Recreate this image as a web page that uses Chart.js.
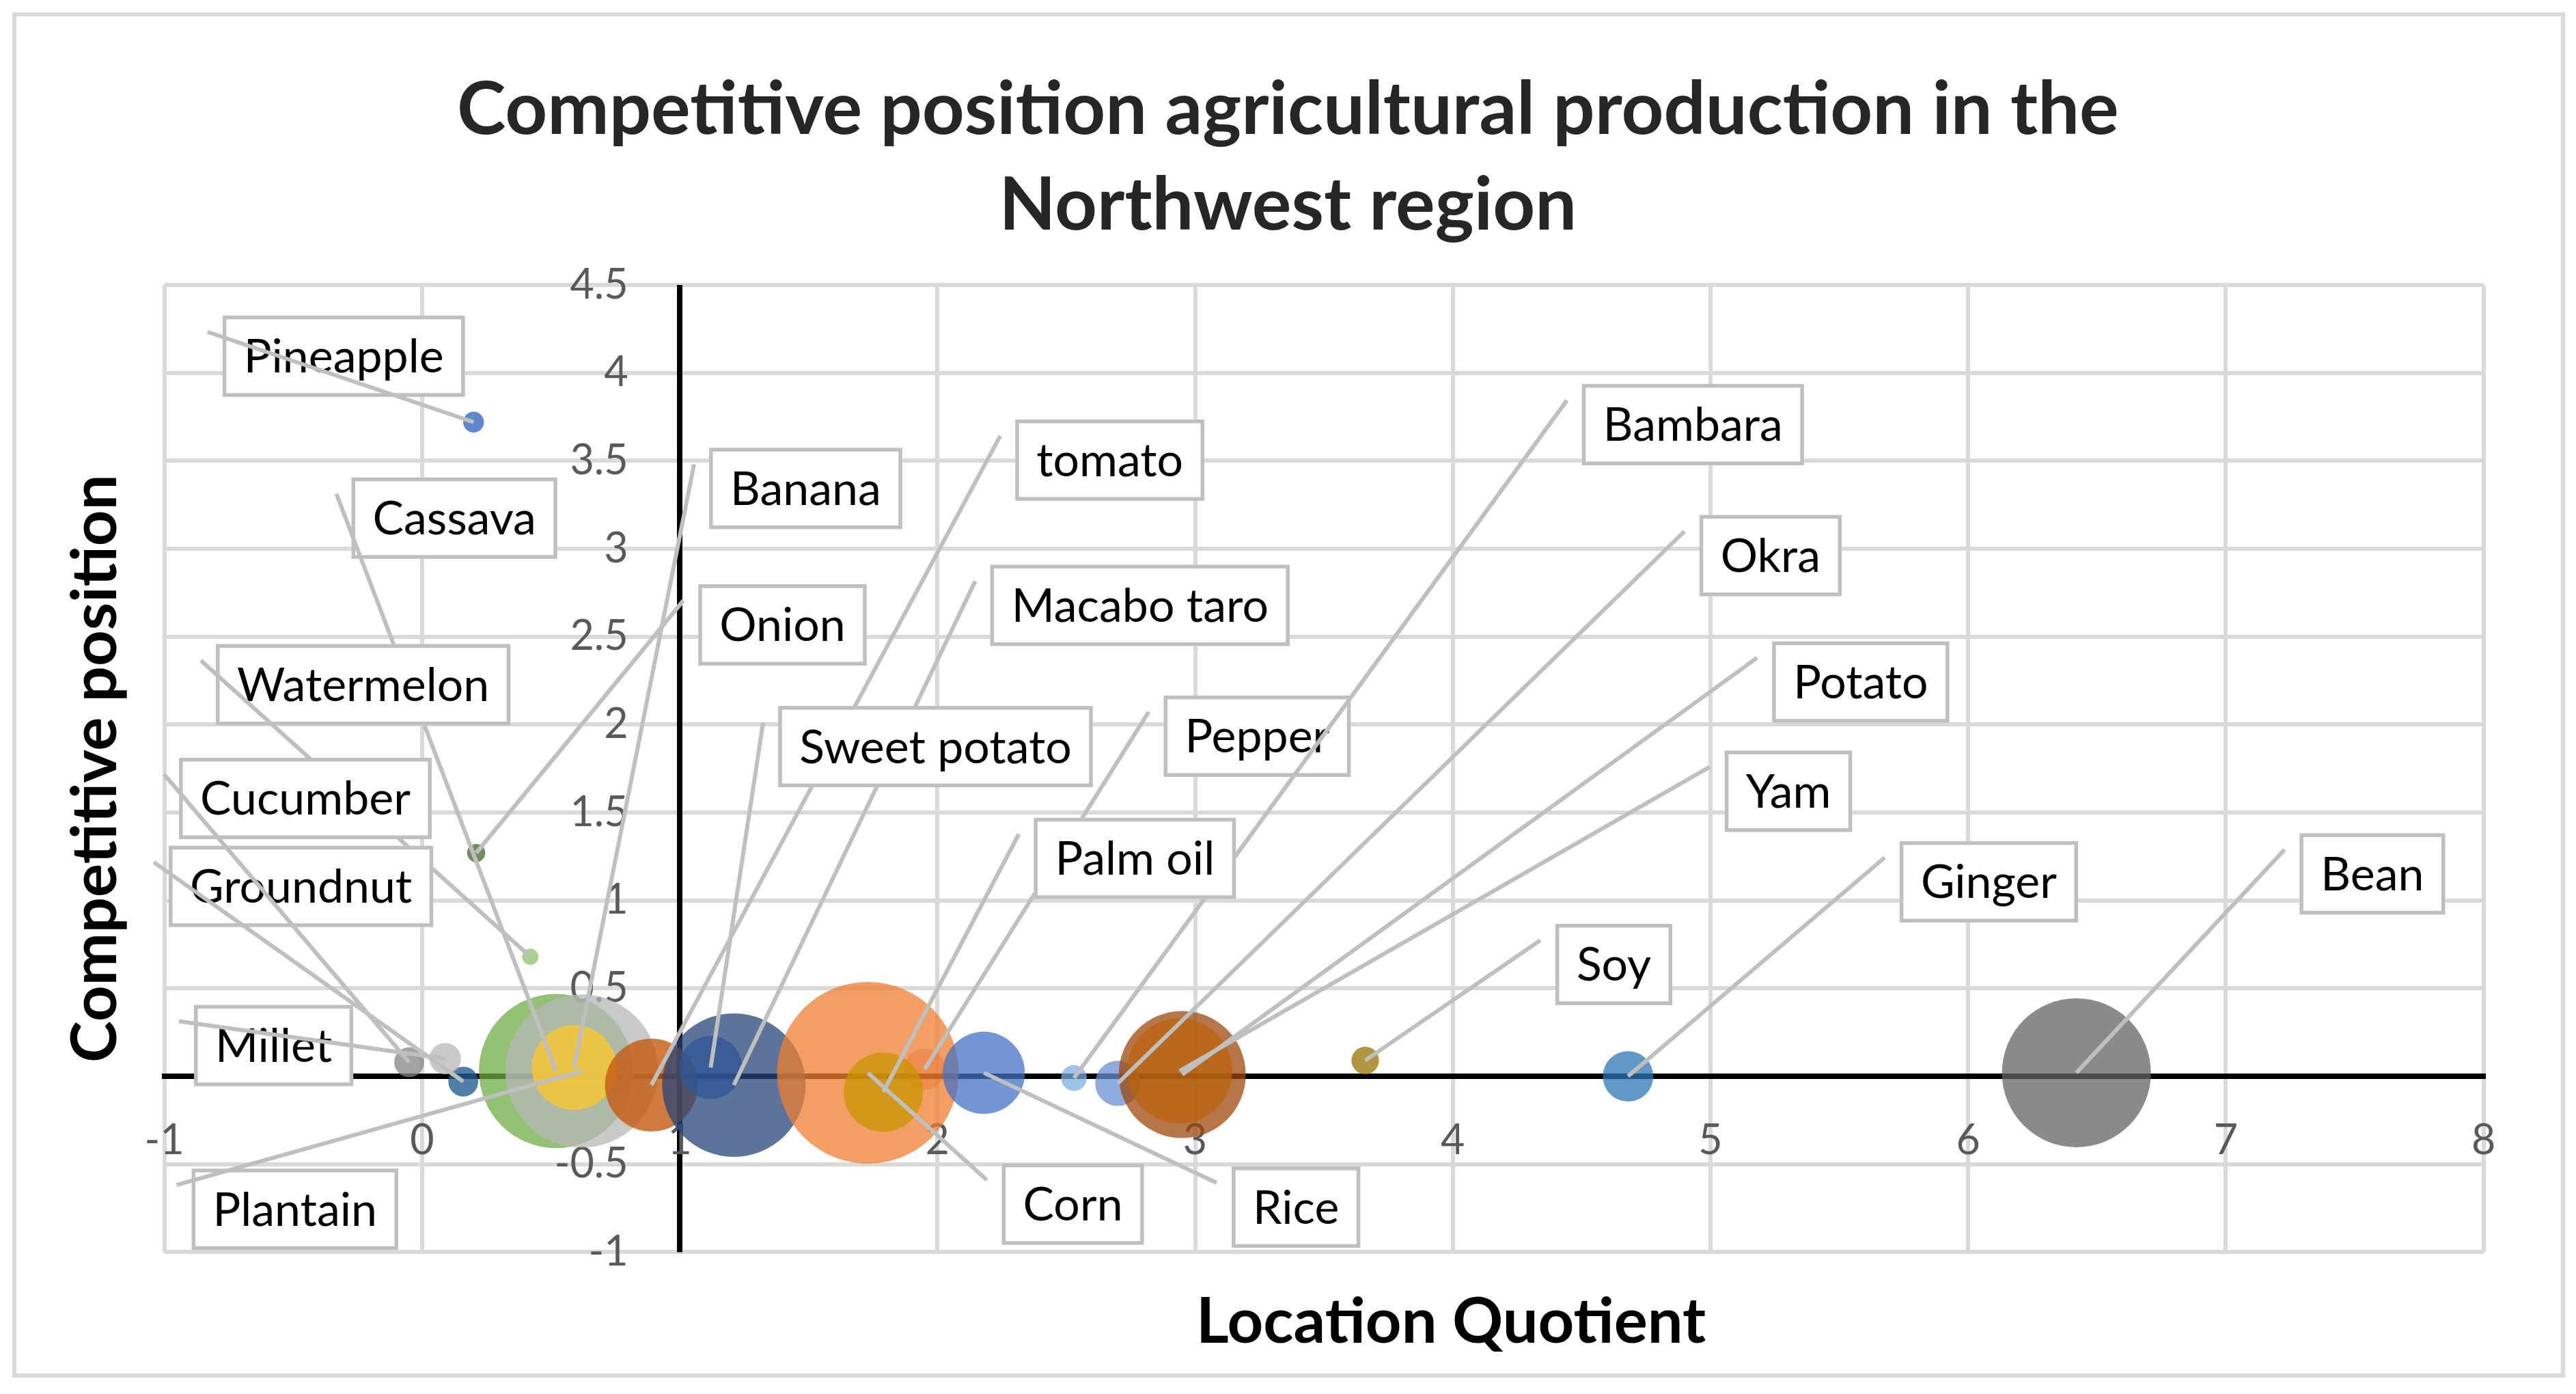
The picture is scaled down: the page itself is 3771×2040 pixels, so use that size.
<!DOCTYPE html>
<html>
<head>
<meta charset="utf-8">
<script src="https://cdn.jsdelivr.net/npm/chart.js@4.4.1/dist/chart.umd.min.js"></script>
<style>
    html, body { margin: 0; padding: 0; background: #fff; }
</style>
</head>
<body>
<canvas id="myChart" width="3771" height="2040"></canvas>
<script>
// Kulturen, eine Blase je Kultur (Reihenfolge = Zeichenreihenfolge)
const crops = ['Pineapple', 'Cassava', 'Watermelon', 'Groundnut', 'Cucumber', 'Millet', 'Plantain',
    'Banana', 'Onion', 'tomato', 'Macabo taro', 'Sweet potato', 'Corn', 'Pepper', 'Bambara',
    'Palm oil', 'Rice', 'Okra', 'Potato', 'Yam', 'Soy', 'Ginger', 'Bean'];

// x: Location Quotient
const locationQuotient = [0.20, 0.52, 0.42, 0.16, -0.05, 0.09, 0.62,
    0.59, 0.21, 0.89, 1.21, 1.12, 1.73, 1.95, 2.53,
    1.79, 2.18, 2.70, 2.95, 2.94, 3.66, 4.68, 6.42];

// y: Competitive position
const competitivePosition = [3.72, 0.03, 0.68, -0.03, 0.08, 0.10, 0.03,
    0.05, 1.27, -0.05, -0.05, 0.05, 0.02, 0.04, -0.01,
    -0.09, 0.02, -0.04, 0.01, 0.03, 0.09, 0.00, 0.02];

// Blasengröße (relativ, Corn = 100)
const productionSize = [1.3, 72, 0.8, 2.7, 2.7, 3.0, 71,
    21.7, 1.0, 26.1, 62.3, 12.0, 100, 5.1, 2.0,
    19.0, 20.4, 6.2, 48.9, 33.5, 2.3, 7.7, 67.2];

const xRange = [-1, 8];
const yRange = [-1, 4.5];

// Farben der Blasen
const cropColors = [
    'rgba(68,114,196,0.85)', 'rgba(112,173,71,0.75)', 'rgba(140,193,104,0.75)', 'rgba(37,94,145,0.8)',
    'rgba(132,132,132,0.75)', 'rgba(183,183,183,0.75)', 'rgba(183,183,183,0.75)', 'rgba(255,200,40,0.75)',
    'rgba(67,104,43,0.75)', 'rgba(197,90,17,0.8)', 'rgba(38,68,120,0.75)', 'rgba(47,85,151,0.75)',
    'rgba(237,125,49,0.75)', 'rgba(230,110,40,0.35)', 'rgba(124,175,221,0.75)', 'rgba(200,150,0,0.75)',
    'rgba(68,114,196,0.75)', 'rgba(105,142,208,0.75)', 'rgba(158,72,14,0.75)', 'rgba(185,100,15,0.75)',
    'rgba(153,115,0,0.75)', 'rgba(46,117,182,0.75)', 'rgba(99,99,99,0.75)'
];

// Beschriftungsboxen: linke obere Ecke in Achsenwerten
const labelAt = [
    [-0.774, 4.326], [-0.274, 3.405], [-0.800, 2.458], [-0.983, 1.311], [-0.943, 1.811],
    [-0.885, 0.406], [-0.894, -0.525], [1.114, 3.574], [1.072, 2.798], [2.302, 3.735],
    [2.205, 2.909], [1.382, 2.106], [2.250, -0.496], [2.878, 2.165], [4.501, 3.937],
    [2.374, 1.470], [3.142, -0.513], [4.957, 3.192], [5.239, 2.473], [5.055, 1.852],
    [4.398, 0.867], [5.734, 1.337], [7.286, 1.382]
];

const R_MAX = 133;   // Radius der größten Blase in px
const GRID = '#d9d9d9';
const LEADER = '#bfbfbf';

// Hintergrund und äußerer Rahmen
const framePlugin = {
    id: 'frame',
    beforeDraw(chart) {
        const ctx = chart.ctx;
        ctx.save();
        ctx.fillStyle = '#fff';
        ctx.fillRect(0, 0, chart.width, chart.height);
        ctx.strokeStyle = GRID;
        ctx.lineWidth = 6;
        ctx.strokeRect(21, 21, 3731, 1992);
        ctx.restore();
    },
    afterLayout(chart) {
        // Achsentitel unten sitzt im Original rechts von der Mitte
        const s = chart.scales.xTitle;
        s.left += 186;
        s.right += 186;
    }
};

// Datenbeschriftungen mit Führungslinien
const calloutPlugin = {
    id: 'callouts',
    afterDatasetsDraw(chart) {
        const ctx = chart.ctx;
        const xs = chart.scales.x;
        const ys = chart.scales.y;
        ctx.save();
        ctx.font = '68px Lato';
        ctx.textAlign = 'center';
        ctx.textBaseline = 'middle';
        crops.forEach((name, i) => {
            const pt = chart.getDatasetMeta(i).data[0];
            const bx = xs.getPixelForValue(labelAt[i][0]);
            const by = ys.getPixelForValue(labelAt[i][1]);
            const w = ctx.measureText(name).width + 62;
            const h = 119;

            ctx.fillStyle = '#fff';
            ctx.fillRect(bx, by, w, h);
            ctx.strokeStyle = LEADER;
            ctx.lineWidth = 5.5;
            ctx.strokeRect(bx + 2.75, by + 2.75, w - 5.5, h - 5.5);
            ctx.fillStyle = '#000';
            ctx.fillText(name, bx + w / 2, by + h / 2 + 2);

            ctx.beginPath();
            ctx.moveTo(bx - 22, by + 24);
            ctx.lineTo(pt.x, pt.y);
            ctx.lineWidth = 6;
            ctx.stroke();
        });
        ctx.restore();
    }
};

const tickFont = { family: 'Lato', size: 61 };
const titleFont = { family: 'Lato', size: 92, weight: 'bold', lineHeight: 1.2 };

new Chart(document.getElementById('myChart'), {
    type: 'bubble',
    data: {
        datasets: crops.map((name, i) => ({
            label: name,
            data: [{
                x: locationQuotient[i],
                y: competitivePosition[i],
                r: R_MAX * Math.sqrt(productionSize[i] / 100)
            }],
            backgroundColor: cropColors[i],
            borderWidth: 0,
            order: -i,   // spätere Reihen liegen oben
            xAxisID: 'x',
            yAxisID: 'y'
        }))
    },
    options: {
        responsive: false,
        animation: false,
        devicePixelRatio: 1,
        layout: { padding: { top: 0, left: 135, right: 135.3, bottom: 40 } },
        plugins: {
            legend: { display: false },
            tooltip: { enabled: false },
            title: {
                display: true,
                text: ['Competitive position agricultural production in the', 'Northwest region'],
                color: '#262626',
                font: { family: 'Lato', size: 108, weight: 'bold', lineHeight: 140 / 108 },
                padding: { top: 91, bottom: 46 }
            }
        },
        scales: {
            x: {
                type: 'linear',
                position: { y: 0 },
                min: xRange[0],
                max: xRange[1],
                ticks: { stepSize: 1, padding: 58, color: '#595959', font: tickFont },
                grid: {
                    z: 0,
                    drawTicks: false,
                    color: c => (c.tick && c.tick.value === 1) ? '#000' : GRID,
                    lineWidth: c => (c.tick && c.tick.value === 1) ? 8 : 6
                },
                border: { display: true, color: '#000', width: 8 }
            },
            y: {
                type: 'linear',
                position: { x: 0.8 },
                min: yRange[0],
                max: yRange[1],
                ticks: {
                    stepSize: 0.5,
                    padding: 0,
                    color: '#595959',
                    font: tickFont,
                    callback: v => String(v)
                },
                grid: { drawTicks: false, color: GRID, lineWidth: 6 },
                border: { display: false }
            },
            xTitle: {
                type: 'linear',
                position: 'bottom',
                grid: { display: false, drawTicks: false },
                border: { display: false },
                ticks: { display: false },
                title: {
                    display: true,
                    text: 'Location Quotient',
                    color: '#000',
                    font: titleFont,
                    padding: { top: 47.4, bottom: 9.8 }
                }
            },
            yTitle: {
                type: 'linear',
                position: 'left',
                grid: { display: false, drawTicks: false },
                border: { display: false },
                ticks: { display: false },
                title: {
                    display: true,
                    text: 'Competitive position',
                    color: '#000',
                    font: titleFont,
                    padding: { top: -50.2, bottom: 45.4 }
                }
            }
        }
    },
    plugins: [framePlugin, calloutPlugin]
});
</script>
</body>
</html>
